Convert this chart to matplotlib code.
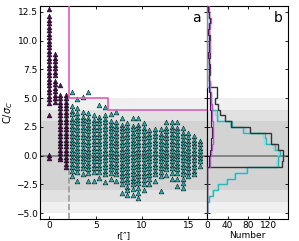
import numpy as np
import matplotlib
matplotlib.use('Agg')
import matplotlib.pyplot as plt

# scatter columns (r in arcsec) and C/sigma_C values
purple_x = [0.0, 0.6, 1.2, 1.8]
purple_y = [
    [12.7, 12.1, 11.8, 11.5, 11.2, 10.9, 10.6, 10.3, 10.0, 9.7, 9.4, 9.1, 8.8, 8.5, 8.2,
     7.9, 7.6, 7.3, 7.0, 6.7, 6.4, 6.1, 5.8, 5.5, 5.2, 4.9, 4.6, 3.5, 0.1, -0.2],
    [8.8, 8.5, 8.2, 7.9, 7.6, 7.3, 7.0, 6.5, 6.2, 5.9, 5.6, 5.3, 5.0, 4.7],
    [6.1, 5.3, 5.0, 4.7, 4.4, 4.1, 3.8, 3.5, 3.2, 2.9, 2.6, 2.3, 2.0, 1.7, 1.4,
     1.1, 0.8, 0.5, 0.2, -0.1, -0.3],
    [5.3, 5.0, 4.7, 4.4, 4.1, 3.8, 3.5, 3.2, 2.9, 2.6, 2.3, 2.0, 1.7, 1.4, 1.1,
     0.8, 0.5, 0.2, -0.1, -0.4, -0.7, -1.0],
]

teal_x = [2.4, 3.0, 3.6, 4.2, 4.8, 5.4, 6.0, 6.6, 7.2, 7.8, 8.4, 9.0, 9.6, 10.2,
          10.8, 11.4, 12.0, 12.6, 13.2, 13.8, 14.4, 15.0, 15.6, 16.2]
teal_y = [
    [5.5, 4.3, 3.9, 3.6, 3.2, 2.9, 2.6, 2.3, 2.0, 1.7, 1.4, 1.1, 0.8, 0.5, 0.2, -0.1, -0.4, -0.7, -1.0, -1.3, -1.8],
    [4.9, 4.1, 3.7, 3.4, 3.1, 2.8, 2.5, 2.2, 1.9, 1.6, 1.3, 1.0, 0.7, 0.4, 0.1, -0.2, -0.5, -0.8, -1.1, -1.4, -2.2],
    [5.1, 3.8, 3.4, 3.1, 2.8, 2.5, 2.2, 1.9, 1.6, 1.3, 1.0, 0.7, 0.4, 0.1, -0.2, -0.5, -0.8, -1.1, -1.6],
    [5.5, 3.7, 3.3, 3.0, 2.7, 2.4, 2.1, 1.8, 1.5, 1.2, 0.9, 0.6, 0.3, 0.0, -0.3, -0.6, -0.9, -1.2, -1.5, -2.2],
    [3.5, 3.1, 2.8, 2.5, 2.2, 1.9, 1.6, 1.3, 1.0, 0.7, 0.4, 0.1, -0.2, -0.5, -0.8, -1.1, -1.4, -2.2],
    [4.4, 3.4, 3.1, 2.8, 2.5, 2.2, 1.9, 1.6, 1.3, 1.0, 0.7, 0.4, 0.1, -0.2, -0.5, -0.8, -1.1, -1.4, -1.9],
    [4.25, 3.5, 3.2, 2.9, 2.6, 2.3, 2.0, 1.7, 1.4, 1.1, 0.8, 0.5, 0.2, -0.1, -0.4, -0.7, -1.0, -1.3, -1.6, -2.3],
    [3.6, 3.0, 2.7, 2.4, 2.1, 1.8, 1.5, 1.2, 0.9, 0.6, 0.3, 0.0, -0.3, -0.6, -0.9, -1.2, -1.5, -2.0],
    [3.8, 2.9, 2.6, 2.3, 2.0, 1.7, 1.4, 1.1, 0.8, 0.5, 0.2, -0.1, -0.4, -0.7, -1.0, -1.3, -1.6, -2.2],
    [3.3, 2.7, 2.4, 2.1, 1.8, 1.5, 1.2, 0.9, 0.6, 0.3, 0.0, -0.3, -0.6, -0.9, -1.2, -1.5, -1.8, -2.1, -2.5, -3.2],
    [2.8, 2.5, 2.2, 1.9, 1.6, 1.3, 1.0, 0.7, 0.4, 0.1, -0.2, -0.5, -0.8, -1.1, -1.4, -1.7, -2.0, -2.3, -2.7, -3.0, -3.4],
    [3.3, 2.6, 2.3, 2.0, 1.7, 1.4, 1.1, 0.8, 0.5, 0.2, -0.1, -0.4, -0.7, -1.0, -1.3, -1.6, -1.9, -2.2, -2.5, -2.9, -3.4],
    [3.3, 2.7, 2.4, 2.1, 1.8, 1.5, 1.2, 0.9, 0.6, 0.3, 0.0, -0.3, -0.6, -0.9, -1.2, -1.5, -1.8, -2.1, -2.4, -2.8, -3.2, -3.7],
    [2.8, 2.4, 2.1, 1.8, 1.5, 1.2, 0.9, 0.6, 0.3, 0.0, -0.3, -0.6, -0.9, -1.2, -1.5, -1.8, -2.1, -2.5, -3.0],
    [2.2, 1.9, 1.6, 1.3, 1.0, 0.7, 0.4, 0.1, -0.2, -0.5, -0.8, -1.1, -1.4, -1.7, -2.0, -2.5],
    [2.3, 2.0, 1.7, 1.4, 1.1, 0.8, 0.5, 0.2, -0.1, -0.4, -0.7, -1.0, -1.3, -1.6, -2.2],
    [2.3, 1.9, 1.6, 1.3, 1.0, 0.7, 0.4, 0.1, -0.2, -0.5, -0.8, -1.1, -1.4, -1.8, -3.1],
    [2.9, 2.4, 2.1, 1.8, 1.5, 1.2, 0.9, 0.6, 0.3, 0.0, -0.3, -0.6, -0.9, -1.2, -1.7],
    [2.9, 2.5, 2.2, 1.9, 1.6, 1.3, 1.0, 0.7, 0.4, 0.1, -0.2, -0.5, -0.8, -1.1, -1.5, -2.0],
    [2.9, 2.4, 2.1, 1.8, 1.5, 1.2, 0.9, 0.6, 0.3, 0.0, -0.3, -0.6, -0.9, -1.2, -1.5, -2.0, -2.6],
    [2.4, 2.0, 1.7, 1.4, 1.1, 0.8, 0.5, 0.2, -0.1, -0.4, -0.7, -1.0, -1.3, -1.6, -2.0, -2.4, -2.8],
    [2.0, 1.6, 1.3, 1.0, 0.7, 0.4, 0.1, -0.2, -0.5, -0.8, -1.1, -1.4, -1.8],
    [1.7, 1.4, 1.1, 0.8, 0.5, 0.2, -0.1, -0.4, -0.7, -1.0, -1.3, -1.6],
    [1.3, 1.0, 0.7, 0.4, 0.1, -0.2, -0.5, -0.9],
]

# histogram counts, bins of 0.5 from -5 to 13 (bottom to top)
bin_edges = np.linspace(-5, 13, 37)
cnt_cyan = [0, 0, 3, 12, 22, 38, 54, 77, 138, 138, 141, 131, 115, 112, 70, 48, 19, 19,
            10, 8, 7, 4, 0, 0, 0, 0, 0, 0, 0, 0, 0, 0, 0, 0, 0, 0]
cnt_cyan2 = [0, 0, 2, 10, 20, 36, 52, 75, 134, 140, 137, 127, 110, 108, 73, 45, 22, 15,
             8, 6, 5, 3, 0, 0, 0, 0, 0, 0, 0, 0, 0, 0, 0, 0, 0, 0]
cnt_black = [0, 0, 0, 0, 0, 0, 0, 0, 146, 148, 148, 138, 125, 125, 83, 47, 35, 25,
             21, 15, 19, 19, 6, 4, 5, 3, 4, 6, 4, 3, 5, 4, 3, 5, 4, 2]
cnt_lav = [0, 0, 0, 0, 0, 0, 0, 0, 6, 5, 7, 10, 11, 12, 12, 11, 10, 10,
           9, 8, 7, 5, 5, 3, 4, 6, 4, 3, 5, 6, 4, 3, 5, 7, 4, 3]
cnt_dpur = [0, 0, 0, 0, 0, 0, 0, 0, 4, 3, 5, 7, 8, 9, 9, 8, 8, 7,
            6, 6, 5, 4, 4, 3, 3, 5, 3, 2, 4, 4, 3, 2, 4, 5, 3, 2]

fig = plt.figure(figsize=(2.99, 2.41), dpi=100)
ax = fig.add_axes([40/299, 22/241, 167/299, 213/241])
axb = fig.add_axes([207/299, 22/241, 81/299, 213/241], sharey=ax)

for a in (ax, axb):
    for lim in (5, 4, 3):
        a.axhspan(-lim, lim, color='k', alpha=0.06, lw=0, zorder=0)
    a.axhline(0, color='#777777', lw=1.2, zorder=1)
    a.tick_params(direction='in', top=True, right=True, labelsize=6.5,
                  length=2.5, width=0.6, pad=1.5)

for x, ys in zip(purple_x, purple_y):
    ax.scatter([x] * len(ys), ys, marker='^', s=12, c='#5a0f5e',
               edgecolors='k', linewidths=0.35, zorder=3)
for x, ys in zip(teal_x, teal_y):
    ax.scatter([x] * len(ys), ys, marker='^', s=12, c='#22b0b0',
               edgecolors='k', linewidths=0.35, zorder=3)

ax.plot([2.1, 2.1, 6.3, 6.3, 17], [13.5, 5, 5, 4, 4], color='#dd5fb0', lw=1.2, zorder=4)
ax.plot([2.1, 2.1], [-5.5, -0.9], color='#999999', lw=1.2, ls='--', zorder=2)

ax.set_xlim(-1, 17)
ax.set_ylim(-5.5, 13.0)
ax.set_xticks([0, 5, 10, 15])
ax.set_yticks([-5, -2.5, 0, 2.5, 5, 7.5, 10, 12.5])
ax.set_xlabel('r[″]', fontsize=6.5, labelpad=1)
ax.set_ylabel(r'C/$\sigma_C$', fontsize=7, labelpad=1)
ax.text(0.965, 0.975, 'a', transform=ax.transAxes, ha='right', va='top', fontsize=10)

axb.stairs(cnt_cyan2, bin_edges, orientation='horizontal', color='#8fdede', lw=1.0, zorder=3)
axb.stairs(cnt_cyan, bin_edges, orientation='horizontal', color='#2ab8b8', lw=1.0, zorder=3)
axb.stairs(cnt_black, bin_edges, orientation='horizontal', color='#333333', lw=1.0, zorder=3)
axb.stairs(cnt_lav, bin_edges, orientation='horizontal', color='#b45cc4', lw=1.0, zorder=4)
axb.stairs(cnt_dpur, bin_edges, orientation='horizontal', color='#5a1060', lw=0.8, zorder=4)

axb.set_xlim(0, 157)
axb.set_xticks([0, 40, 80, 120])
axb.tick_params(labelleft=False)
axb.set_xlabel('Number', fontsize=6.5, labelpad=1)
axb.text(0.93, 0.975, 'b', transform=axb.transAxes, ha='right', va='top', fontsize=10)

fig.savefig('out.png', dpi=100)
